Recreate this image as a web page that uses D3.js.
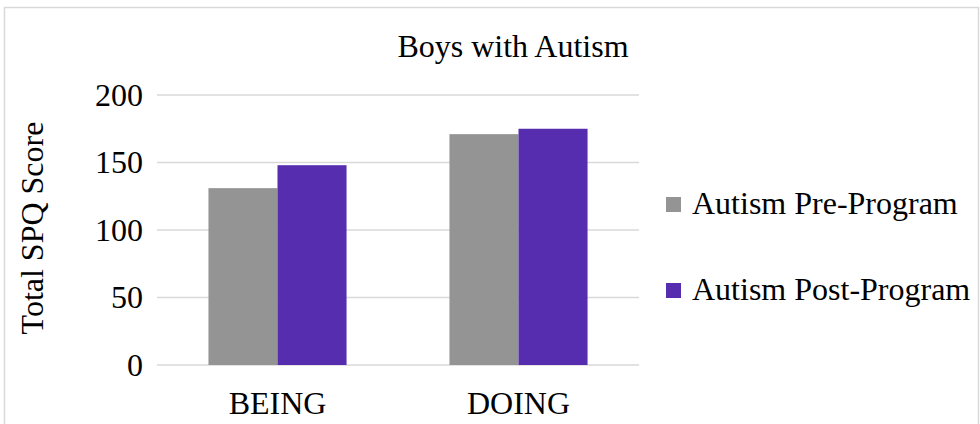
<!DOCTYPE html>
<html>
<head>
<meta charset="utf-8">
<script src="https://cdn.jsdelivr.net/npm/d3@7"></script>
<style>
  body { margin: 0; background: #fff; }
  svg { display: block; font-family: "Liberation Serif", "Times New Roman", serif; }
</style>
</head>
<body>
<div id="chart"></div>
<script>
const categories = ['BEING', 'DOING'];
const seriesNames = ['Autism Pre-Program', 'Autism Post-Program'];
const preValues = [131, 171];
const postValues = [148, 175];
const yTicks = [0, 50, 100, 150, 200];
const colors = ['#949494', '#572db0'];

const fullWidth = 980;
const fullHeight = 424;
const margin = {top: 95, right: 341, bottom: 59, left: 157};
const width = fullWidth - margin.left - margin.right;
const height = fullHeight - margin.top - margin.bottom;
const fontSize = 32;

const data = categories.map((c, i) => ({cat: c, values: [preValues[i], postValues[i]]}));

const svg = d3.select('#chart')
  .append('svg')
  .attr('width', fullWidth)
  .attr('height', fullHeight);

// chart border
svg.append('rect')
  .attr('x', 4.5)
  .attr('y', 7.5)
  .attr('width', fullWidth - 6)
  .attr('height', fullHeight)
  .attr('fill', 'none')
  .attr('stroke', '#d9d9d9')
  .attr('stroke-width', 1.5);

svg.append('text')
  .attr('x', 513)
  .attr('y', 57)
  .attr('text-anchor', 'middle')
  .attr('font-size', fontSize)
  .attr('fill', '#000')
  .text('Boys with Autism');

const g = svg.append('g')
  .attr('transform', 'translate(' + margin.left + ',' + margin.top + ')');

const x0 = d3.scaleBand()
  .domain(categories)
  .range([0, width])
  .paddingInner(0.427)
  .paddingOuter(0.2135);

const x1 = d3.scaleBand()
  .domain([0, 1])
  .range([0, x0.bandwidth()]);

const yScale = d3.scaleLinear()
  .domain([0, 200])
  .range([height, 0]);

// gridlines
g.selectAll('.grid')
  .data(yTicks)
  .enter().append('line')
    .attr('x1', 0)
    .attr('x2', width)
    .attr('y1', d => yScale(d))
    .attr('y2', d => yScale(d))
    .attr('stroke', '#d9d9d9')
    .attr('stroke-width', 1.5);

const yAxis = g.append('g')
  .call(d3.axisLeft(yScale).tickValues(yTicks).tickSize(0).tickPadding(14));
yAxis.select('.domain').remove();
yAxis.selectAll('text')
  .attr('font-family', '"Liberation Serif", serif')
  .attr('font-size', fontSize)
  .attr('fill', '#000');

const groups = g.selectAll('.cat')
  .data(data)
  .enter().append('g')
    .attr('transform', d => 'translate(' + x0(d.cat) + ',0)');

groups.selectAll('rect')
  .data(d => d.values)
  .enter().append('rect')
    .attr('x', (d, i) => x1(i))
    .attr('y', d => yScale(d))
    .attr('width', x1.bandwidth())
    .attr('height', d => height - yScale(d))
    .attr('fill', (d, i) => colors[i]);

const xAxis = g.append('g')
  .attr('transform', 'translate(0,' + height + ')')
  .call(d3.axisBottom(x0).tickSize(0));
xAxis.select('.domain').remove();
xAxis.selectAll('text')
  .attr('y', 49)
  .attr('dy', 0)
  .attr('font-family', '"Liberation Serif", serif')
  .attr('font-size', fontSize)
  .attr('fill', '#000');

svg.append('text')
  .attr('transform', 'translate(43,' + 228 + ') rotate(-90)')
  .attr('text-anchor', 'middle')
  .attr('font-size', fontSize)
  .attr('fill', '#000')
  .text('Total SPQ Score');

// legend
const legend = svg.selectAll('.legend')
  .data(seriesNames)
  .enter().append('g')
    .attr('transform', (d, i) => 'translate(666,' + (197 + i * 86) + ')');

legend.append('rect')
  .attr('width', 15)
  .attr('height', 15)
  .attr('fill', (d, i) => colors[i]);

legend.append('text')
  .attr('x', 26)
  .attr('y', 17)
  .attr('font-size', fontSize)
  .attr('fill', '#000')
  .text(d => d);
</script>
</body>
</html>
